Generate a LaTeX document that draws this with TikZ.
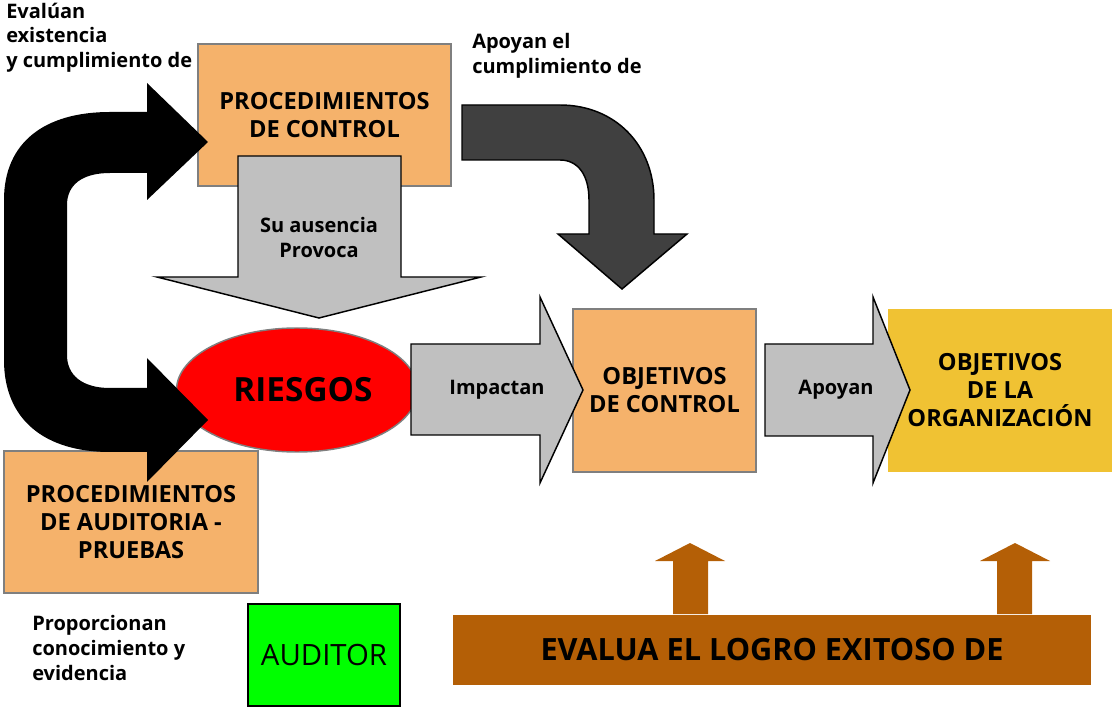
\documentclass[tikz,border=0pt]{standalone}
\usepackage{fontspec}
\setmainfont{Open Sans}
\usetikzlibrary{shapes.geometric}
\definecolor{orangebox}{HTML}{F5B26B}
\definecolor{boxgray}{HTML}{7F7F7F}
\definecolor{arrowgray}{HTML}{C0C0C0}
\definecolor{darkarrow}{HTML}{404040}
\definecolor{yellowbox}{HTML}{F0C233}
\definecolor{brown}{HTML}{B45F06}
\begin{document}
\begin{tikzpicture}[x=0.75pt,y=-0.75pt,
  bigtxt/.style={font=\bfseries\fontsize{17.7}{21}\selectfont,align=center},
  smalltxt/.style={font=\bfseries\fontsize{15}{18.6}\selectfont,align=left,inner sep=0pt,anchor=north west},
  arrowtxt/.style={font=\bfseries\fontsize{15}{18.6}\selectfont,align=center},
  obox/.style={draw=boxgray,fill=orangebox,line width=1.1pt,inner sep=0pt,bigtxt},
  blockarrow/.style={draw=black,fill=arrowgray,line width=1.1pt,line join=miter},
]
\useasboundingbox (0,0) rectangle (1117,712);

% boxes
\node[obox,minimum width=189.75pt,minimum height=106.5pt] (pc) at (324.5,115) {PROCEDIMIENTOS\\DE CONTROL};
\node[obox,minimum width=190.5pt,minimum height=106.5pt] (pa) at (131,522) {PROCEDIMIENTOS\\DE AUDITORIA -\\PRUEBAS};
\node[draw=boxgray,fill=red,line width=1.1pt,ellipse,minimum width=180.75pt,minimum height=93pt,inner sep=0pt,
      font=\bfseries\fontsize{25}{29}\selectfont] (ri) at (297,390) {\hspace*{9pt}RIESGOS};
\node[obox,minimum width=137.25pt,minimum height=122.25pt] (oc) at (664.5,390.5) {OBJETIVOS\\DE CONTROL};
\node[fill=yellowbox,minimum width=168pt,minimum height=122.25pt,inner sep=0pt,bigtxt] (oo) at (1000,390.5) {OBJETIVOS\\DE LA\\ORGANIZACIÓN};
\node[draw=black,fill=green,line width=1.1pt,minimum width=114pt,minimum height=76.5pt,inner sep=0pt,
      font=\fontsize{22}{26}\selectfont] (au) at (324,655) {AUDITOR};
\node[fill=brown,minimum width=478.5pt,minimum height=52.5pt,inner sep=0pt,
      font=\bfseries\fontsize{23}{27}\selectfont] (ev) at (772,650) {EVALUA EL LOGRO EXITOSO DE};

% gray down arrow (Su ausencia provoca)
\draw[blockarrow] (238,156) -- (401,156) -- (401,277) -- (481,277) -- (319,318) -- (157,277) -- (238,277) -- cycle;
\node[arrowtxt] (sa) at (319,237.5) {Su ausencia\\Provoca};

% Impactan arrow
\draw[blockarrow] (411,344) -- (540,344) -- (540,297) -- (583,390) -- (540,483) -- (540,435) -- (411,435) -- cycle;
\node[arrowtxt] (im) at (497,390) {Impactan};

% Apoyan arrow
\draw[blockarrow] (765,344) -- (873,344) -- (873,297) -- (910,390) -- (873,483) -- (873,436) -- (765,436) -- cycle;
\node[arrowtxt] (ap) at (836,390) {Apoyan};

% dark bent arrow
\draw[draw=black,fill=darkarrow,line width=1.1pt,line join=miter]
  (462,105) -- (560,105) .. controls (615,105) and (654,145) .. (654,200) -- (654,234) -- (687,234)
  -- (622,289) -- (558,234) -- (589,234) -- (589,200) .. controls (589,175) and (578,160) .. (560,160)
  -- (462,160) -- cycle;

% black U arrow
\fill[black] (110,112) -- (147,112) -- (147,83) -- (208,142) -- (147,200) -- (147,173) -- (110,173)
  .. controls (82,173) and (67,185) .. (67,205) -- (67,355)
  .. controls (67,375) and (82,388) .. (110,388) -- (147,388) -- (147,358) -- (208,420) -- (147,482)
  -- (147,452) -- (110,452) .. controls (45,452) and (4,420) .. (4,360) -- (4,200)
  .. controls (4,142) and (45,112) .. (110,112) -- cycle;

% brown up arrows
\fill[brown] (690,543) -- (725,561) -- (708,561) -- (708,614) -- (673,614) -- (673,561) -- (655,561) -- cycle;
\fill[brown] (1015,543) -- (1050,561) -- (1032,561) -- (1032,614) -- (997,614) -- (997,561) -- (980,561) -- cycle;

% free texts
\node[smalltxt] (t1) at (6,2.5) {Evalúan\\existencia\\y cumplimiento de};
\node[smalltxt] (t2) at (472,33) {Apoyan el\\cumplimiento de};
\node[smalltxt] (t3) at (32,615) {Proporcionan\\conocimiento y\\evidencia};
\end{tikzpicture}
\end{document}
